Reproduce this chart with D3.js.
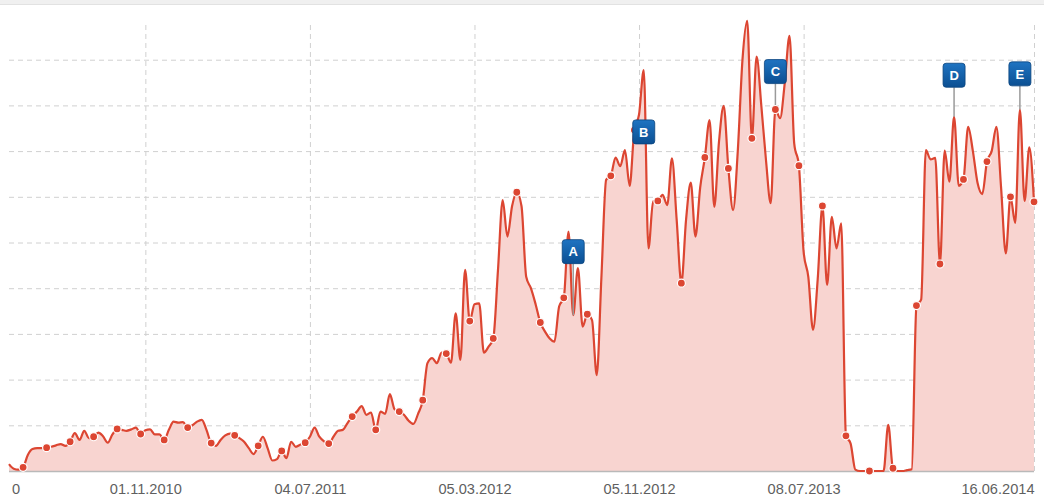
<!doctype html>
<html>
<head>
<meta charset="utf-8">
<style>
    body { margin: 0; background: #fff; }
    .grid line { stroke: #d0d0d0; stroke-dasharray: 5,4; }
    .grid path { display: none; }
    .xlabels text { font-family: "Liberation Sans", Arial, sans-serif; font-size: 14.6px; fill: #5f5f5f; }
    .flag text { font-family: "Liberation Sans", Arial, sans-serif; font-size: 13px; font-weight: bold; fill: #fff; }
</style>
<script src="https://cdn.jsdelivr.net/npm/d3@7"></script>
</head>
<body>
<svg id="chart" width="1044" height="502"></svg>
<script>

    // weekly values, first week = 12.04.2010
    var startDate = Date.UTC(2010, 3, 12);
    var weeklyValues = [
        1.5, 0.5, 0.3, 0.8, 3.5, 4.8, 5.0, 5.0, 5.1, 5.3,
        5.6, 5.9, 5.5, 6.4, 8.3, 6.8, 8.8, 7.2, 7.5, 8.4,
        7.6, 6.2, 8.0, 9.2, 9.0, 8.8, 9.1, 9.5, 8.1, 8.9,
        9.1, 8.0, 8.0, 6.8, 9.0, 10.8, 10.6, 10.7, 9.5, 10.0,
        10.8, 11.2, 9.0, 6.1, 5.5, 6.8, 7.8, 8.2, 7.8, 7.2,
        6.4, 5.0, 3.7, 5.5, 7.5, 5.0, 2.3, 2.6, 4.4, 2.8,
        6.4, 5.3, 5.8, 6.2, 7.5, 9.5, 7.5, 6.5, 6.0, 7.5,
        8.8, 9.0, 10.5, 11.9, 13.0, 14.2, 12.3, 12.8, 9.0, 13.0,
        12.5, 16.8, 13.5, 13.0, 12.3, 11.0, 10.3, 12.5, 15.5, 23.6,
        24.7, 23.6, 25.9, 25.7, 23.7, 34.5, 24.3, 44.0, 32.8, 36.5,
        36.7, 25.9, 27.2, 29.0, 44.0, 59.3, 51.3, 58.0, 61.0, 58.0,
        42.5, 40.0, 36.5, 32.5, 30.5, 29.0, 28.3, 36.0, 37.9, 52.4,
        34.1, 44.4, 31.6, 34.3, 33.0, 21.0, 42.5, 63.7, 64.6, 68.6,
        66.7, 70.2, 62.4, 74.6, 78.0, 87.7, 48.7, 59.0, 59.1, 60.4,
        58.2, 68.4, 55.0, 41.1, 55.0, 63.1, 51.3, 62.0, 68.6, 76.8,
        57.8, 72.0, 79.9, 66.2, 57.1, 70.0, 90.0, 98.5, 72.8, 90.7,
        80.0, 68.0, 58.6, 79.1, 77.2, 85.0, 95.2, 71.7, 66.8, 48.0,
        42.5, 30.9, 42.0, 58.0, 40.7, 55.6, 48.7, 54.2, 7.7, 6.0,
        0.3, 0, 0, 0, 0, 0, 0, 10.1, 0.6, 0,
        0, 0.2, 0.4, 36.2, 37.5, 70.2, 68.2, 68.5, 45.3, 70.1,
        63.3, 77.5, 62.4, 63.8, 75.3, 70.0, 63.0, 60.6, 67.7, 70.0,
        75.3, 62.0, 47.6, 60.0, 54.3, 79.1, 59.1, 70.8, 58.9
    ];

    var tickWeeks = [0, 29, 64, 99, 134, 169, 218];
    var tickLabels = ["0", "01.11.2010", "04.07.2011", "05.03.2012", "05.11.2012", "08.07.2013", "16.06.2014"];
    var gridValues = [10, 20, 30, 40, 50, 60, 70, 80, 90];

    var markerLabels = ["A", "B", "C", "D", "E"];
    var markerWeeks = [120, 135, 163, 201, 215];
    var markerLevels = [48, 74.2, 87.4, 86.6, 86.9];

    var svg = d3.select("#chart"),
        plotLeft = 9, plotRight = 1034, plotBottom = 471, plotTop = 14;

    function weekDate(w) { return d3.utcWeek.offset(new Date(startDate), w); }

    var data = weeklyValues.map(function(v, i) { return { date: weekDate(i), value: v, week: i }; });

    var x = d3.scaleUtc()
        .domain([weekDate(0), weekDate(weeklyValues.length - 1)])
        .range([plotLeft, plotRight]);
    var y = d3.scaleLinear().domain([0, 100]).range([plotBottom, plotTop]);

    // top strip
    svg.append("rect").attr("x", 0).attr("y", 0).attr("width", 1044).attr("height", 4).attr("fill", "#f0f0f0");
    svg.append("line").attr("x1", 0).attr("x2", 1044).attr("y1", 4.5).attr("y2", 4.5).attr("stroke", "#e2e2e2");

    // horizontal grid
    svg.append("g")
       .attr("class", "grid")
       .attr("transform", "translate(" + plotLeft + ",0)")
       .call(d3.axisLeft(y).tickValues(gridValues).tickSize(-(plotRight - plotLeft)).tickFormat(""));

    // vertical grid + labels
    var xAxis = svg.append("g")
       .attr("class", "grid xlabels")
       .attr("transform", "translate(0," + plotBottom + ")")
       .call(d3.axisBottom(x)
           .tickValues(tickWeeks.map(weekDate))
           .tickSize(-(plotBottom - 23))
           .tickPadding(12.6)
           .tickFormat(function(d, i) { return tickLabels[i]; }));

    xAxis.selectAll(".tick").each(function(d, i) {
        var t = d3.select(this);
        if (i === 0) {
            t.select("line").remove();
            t.select("text").attr("text-anchor", "start").attr("x", 2.5);
        }
        if (i === tickWeeks.length - 1) t.select("text").attr("text-anchor", "end");
    });

    var area = d3.area()
        .x(function(d) { return x(d.date); })
        .y0(plotBottom)
        .y1(function(d) { return y(d.value); })
        .curve(d3.curveMonotoneX);

    var line = d3.line()
        .x(function(d) { return x(d.date); })
        .y(function(d) { return y(d.value); })
        .curve(d3.curveMonotoneX);

    svg.append("path").datum(data).attr("d", area).attr("fill", "#f8d4d0");

    // base line
    svg.append("line")
       .attr("x1", plotLeft).attr("x2", plotRight)
       .attr("y1", plotBottom + 0.5).attr("y2", plotBottom + 0.5)
       .attr("stroke", "#b9b9b9").attr("stroke-width", 1.5);

    svg.append("path").datum(data)
       .attr("d", line)
       .attr("fill", "none")
       .attr("stroke", "#dc4632")
       .attr("stroke-width", 2.2)
       .attr("stroke-linejoin", "round");

    // flag stems
    markerWeeks.forEach(function(w, i) {
        var py = y(weeklyValues[w]), by = y(markerLevels[i]) + 12;
        if (py > by) {
            svg.append("line")
               .attr("x1", x(weekDate(w))).attr("x2", x(weekDate(w)))
               .attr("y1", by).attr("y2", py)
               .attr("stroke", "#9a9a9a").attr("stroke-width", 1.5);
        }
    });

    // dots every fifth week
    svg.selectAll(".point")
       .data(data.filter(function(d) { return (d.week - 3) % 5 === 0; }))
       .enter().append("circle")
       .attr("class", "point")
       .attr("cx", function(d) { return x(d.date); })
       .attr("cy", function(d) { return y(d.value); })
       .attr("r", 4)
       .attr("fill", "#dc4632")
       .attr("stroke", "#fff")
       .attr("stroke-width", 1.2);

    var defs = svg.append("defs");
    var grad = defs.append("linearGradient").attr("id", "flagGrad").attr("x1", 0).attr("x2", 0).attr("y1", 0).attr("y2", 1);
    grad.append("stop").attr("offset", "0%").attr("stop-color", "#1f74c2");
    grad.append("stop").attr("offset", "100%").attr("stop-color", "#0b4f92");

    var flags = svg.selectAll(".flag")
       .data(markerLabels)
       .enter().append("g")
       .attr("class", "flag")
       .attr("transform", function(d, i) {
           return "translate(" + x(weekDate(markerWeeks[i])) + "," + y(markerLevels[i]) + ")";
       });

    flags.append("rect")
       .attr("x", -11).attr("y", -12)
       .attr("width", 22).attr("height", 24)
       .attr("rx", 3)
       .attr("fill", "url(#flagGrad)")
       .attr("stroke", "#0a447e")
       .attr("stroke-width", 0.8);

    flags.append("text")
       .attr("text-anchor", "middle")
       .attr("dy", "0.36em")
       .text(function(d) { return d; });
</script>
</body>
</html>
